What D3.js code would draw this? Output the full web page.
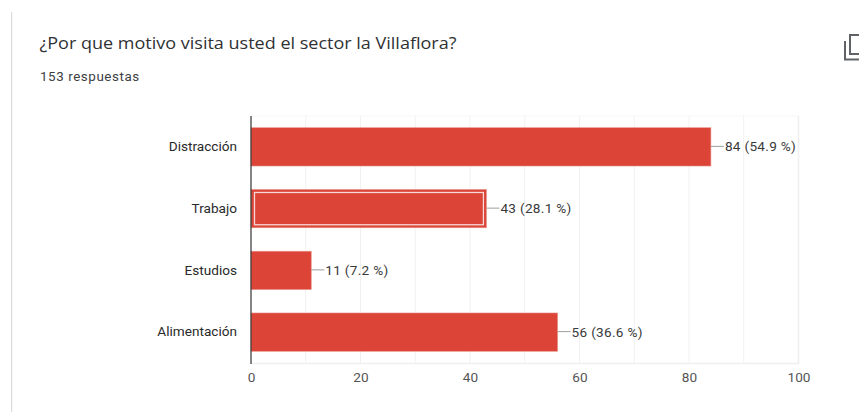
<!DOCTYPE html>
<html lang="es">
<head>
<meta charset="utf-8">
<script src="https://cdnjs.cloudflare.com/ajax/libs/d3/7.8.5/d3.min.js"></script>
<style>
  html, body { margin: 0; padding: 0; background: #fff; overflow: hidden; }
  svg { display: block; }
  text { font-family: Roboto, Arial, sans-serif; }
</style>
</head>
<body>
<svg id="chart" width="859" height="412"></svg>
<script>
const categories = ["Distracción", "Trabajo", "Estudios", "Alimentación"];
const counts = [84, 43, 11, 56];
const shares = ["54.9", "28.1", "7.2", "36.6"];
const xTicks = [0, 20, 40, 60, 80, 100];
const xGrid = [10, 20, 30, 40, 50, 60, 70, 80, 90, 100];
const highlighted = "Trabajo";
const questionTitle = "¿Por que motivo visita usted el sector la Villaflora?";
const responseCount = "153 respuestas";

const svg = d3.select("#chart");
const barColor = "#db4437";
const inkColor = "#3c4043";

const x = d3.scaleLinear().domain([0, 100]).range([251, 798.5]);
const y = d3.scaleBand().domain(categories).range([116, 363]).paddingInner(0.38).paddingOuter(0.19);

// Card edge on the left
svg.append("rect").attr("x", 11).attr("y", 12).attr("width", 1.2).attr("height", 400).attr("fill", "#dadce0");

// Question header
svg.append("text").attr("x", 39.5).attr("y", 49)
  .attr("font-size", 16.6).attr("fill", "#2f3134")
  .style("font-family", "'Open Sans', Roboto, sans-serif")
  .attr("textLength", 417).attr("lengthAdjust", "spacingAndGlyphs")
  .text(questionTitle);
svg.append("text").attr("x", 40).attr("y", 81)
  .attr("font-size", 13.4).attr("letter-spacing", 0.57).attr("fill", inkColor)
  .text(responseCount);

// Copy icon, clipped by the right edge
const icon = svg.append("g").attr("fill", "none").attr("stroke", "#5f6368").attr("stroke-width", 2);
icon.append("path").attr("d", "M845 41 V59.5 H859");
icon.append("path").attr("d", "M859 35 H850 V54 H859");

// Vertical grid
svg.append("g").selectAll("line").data(xGrid).join("line")
  .attr("x1", d => x(d)).attr("x2", d => x(d))
  .attr("y1", 116).attr("y2", 364)
  .attr("stroke", d => d === 100 ? "#efefef" : "#f1f1f1")
  .attr("stroke-width", d => d === 100 ? 1.5 : 1);
svg.append("line").attr("x1", 251).attr("x2", 799).attr("y1", 116).attr("y2", 116).attr("stroke", "#f6f6f6");
svg.append("line").attr("x1", 251).attr("x2", 799).attr("y1", 363.5).attr("y2", 363.5).attr("stroke", "#efefef").attr("stroke-width", 1.5);

// Bars
const rows = categories.map((name, i) => ({ name, count: counts[i], share: shares[i] }));
const row = svg.append("g").selectAll("g").data(rows).join("g");

row.append("rect")
  .attr("x", x(0)).attr("y", d => y(d.name))
  .attr("width", d => x(d.count) - x(0)).attr("height", y.bandwidth())
  .attr("fill", barColor).attr("stroke", "#ea8f86").attr("stroke-width", 0.6);

// Inner outline on the selected bar
row.filter(d => d.name === highlighted).append("rect")
  .attr("x", x(0) + 3.5).attr("y", d => y(d.name) + 3)
  .attr("width", d => x(d.count) - x(0) - 6.5).attr("height", y.bandwidth() - 6)
  .attr("fill", "none").attr("stroke", "#f6d9d6").attr("stroke-width", 1.3);

// Leader lines and value labels
row.append("line")
  .attr("x1", d => x(d.count)).attr("x2", d => x(d.count) + 13)
  .attr("y1", d => y(d.name) + y.bandwidth() / 2 - 0.5).attr("y2", d => y(d.name) + y.bandwidth() / 2 - 0.5)
  .attr("stroke", "#9e9e9e").attr("stroke-width", 1);
row.append("text")
  .attr("x", d => x(d.count) + 14).attr("y", d => y(d.name) + y.bandwidth() / 2 + 4.5)
  .attr("font-size", 13.6).attr("letter-spacing", 0.3).attr("fill", "#3a3a3a")
  .text(d => `${d.count} (${d.share} %)`);

// Category labels
const yAxis = d3.axisLeft(y).tickSize(0).tickPadding(14);
const yG = svg.append("g").attr("transform", "translate(251,0)").call(yAxis);
yG.select(".domain").remove();
yG.selectAll("text").attr("font-size", 13.6).attr("fill", "#2a2a2a").style("font-family", "Roboto, sans-serif");

// Value axis
const xAxis = d3.axisBottom(x).tickValues(xTicks).tickSize(0).tickPadding(9);
const xG = svg.append("g").attr("transform", "translate(0,363)").call(xAxis);
xG.select(".domain").remove();
xG.selectAll("text").attr("font-size", 13.6).attr("fill", "#555").style("font-family", "Roboto, sans-serif");

// Baseline at zero
svg.append("line").attr("x1", 251).attr("x2", 251).attr("y1", 116).attr("y2", 364).attr("stroke", "#333").attr("stroke-width", 1.2);
</script>
</body>
</html>
